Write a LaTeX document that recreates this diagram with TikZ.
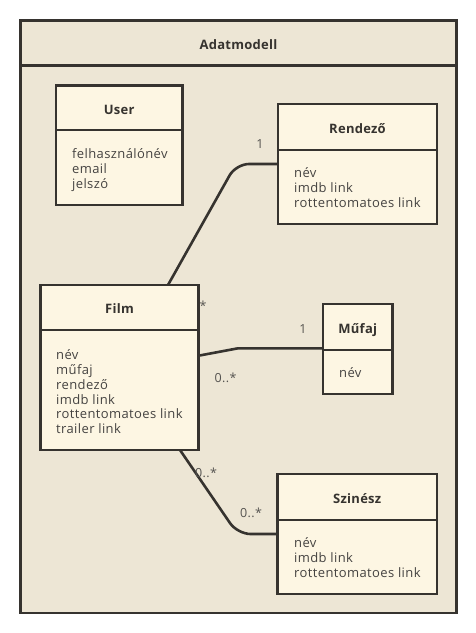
\documentclass[tikz,border=0pt]{standalone}
\usepackage{fontspec}
\setmainfont{Open Sans}
\newfontfamily\attrfont[LetterSpace=3]{Open Sans}
\newfontfamily\titlefont[LetterSpace=2]{Open Sans}
\usetikzlibrary{calc}
\definecolor{framebg}{HTML}{EDE6D5}
\definecolor{boxbg}{HTML}{FDF6E3}
\definecolor{ink}{HTML}{36332F}
\definecolor{attr}{HTML}{454341}
\definecolor{lbl}{HTML}{555350}
\begin{document}
\begin{tikzpicture}[x=1pt,y=-1pt,
  framebox/.style={draw=ink,fill=framebg,line width=2.2pt,anchor=north west,inner sep=0pt,outer sep=0pt},
  headbox/.style={draw=ink,fill=boxbg,line width=2.8pt,anchor=north west,inner sep=0pt,outer sep=0pt,text height=12.5pt,text depth=0pt,font=\titlefont\fontsize{13}{15}\selectfont\bfseries,text=ink},
  bodybox/.style={draw=ink,fill=boxbg,line width=2.8pt,anchor=north west,inner sep=0pt,outer sep=0pt},
  attrtext/.style={anchor=base west,inner sep=0pt,font=\attrfont\fontsize{13}{15}\selectfont,text=attr},
  mult/.style={inner sep=0pt,font=\attrfont\fontsize{12.5}{14}\selectfont,text=lbl},
  conn/.style={draw=ink,line width=2.6pt}]
\useasboundingbox (0,0) rectangle (476,633);
\fill[white] (0,0) rectangle (476,633);
% outer frame
\node[framebox,minimum width=436pt,minimum height=547.5pt] (fbody) at (20.5,65.5) {};
\node[framebox,minimum width=436pt,minimum height=45pt,text height=12.5pt,text depth=0pt,font=\titlefont\fontsize{13}{15}\selectfont\bfseries,text=ink] (fhead) at (20.5,20.5) {Adatmodell};
% User
\node[headbox,minimum width=126.5pt,minimum height=44.5pt] (userh) at (56,85.5) {User};
\node[bodybox,minimum width=126.5pt,minimum height=75pt] (userb) at (56,130) {};
% Rendezo
\node[headbox,minimum width=159pt,minimum height=46pt] (rendh) at (278,104) {Rendező};
\node[bodybox,minimum width=159pt,minimum height=74pt] (rendb) at (278,150) {};
% Film
\node[headbox,minimum width=158pt,minimum height=45pt] (filmh) at (40.5,285) {Film};
\node[bodybox,minimum width=158pt,minimum height=120pt] (filmb) at (40.5,330) {};
% Mufaj
\node[headbox,minimum width=69.5pt,minimum height=46pt] (mufh) at (323,304) {Műfaj};
\node[bodybox,minimum width=69.5pt,minimum height=44pt] (mufb) at (323,350) {};
% Szinesz
\node[headbox,minimum width=159.5pt,minimum height=46pt] (szh) at (277.5,474) {Szinész};
\node[bodybox,minimum width=159.5pt,minimum height=74pt] (szb) at (277.5,520) {};
% connectors
\coordinate (c1) at ([xshift=127.5pt]filmh.north west);
\coordinate (c2) at ([yshift=-14pt]rendb.north west);
\coordinate (c3) at ([yshift=-25.7pt]filmb.north east);
\coordinate (c4) at ([yshift=1.7pt]mufh.south west);
\coordinate (c5) at ([xshift=139.5pt]filmb.south west);
\coordinate (c6) at ([yshift=-14pt]szb.north west);
\draw[conn,rounded corners=13pt] (c1) -- (236,0 |- c2) -- (c2);
\draw[conn] (c3) -- (238,0 |- c4) -- (c4);
\draw[conn,rounded corners=13pt] (c5) -- (237.5,0 |- c6) -- (c6);
% attribute texts
\node[attrtext] (u1) at (72,158) {felhasználónév};
\node[attrtext] (u2) at (72,173) {email};
\node[attrtext] (u3) at (72,188) {jelszó};
\node[attrtext] (r1) at (294,177) {név};
\node[attrtext] (r2) at (294,192) {imdb link};
\node[attrtext] (r3) at (294,207) {rottentomatoes link};
\node[attrtext] (f1) at (56,359) {név};
\node[attrtext] (f2) at (56,374) {műfaj};
\node[attrtext] (f3) at (56,389) {rendező};
\node[attrtext] (f4) at (56,404) {imdb link};
\node[attrtext] (f5) at (56,418) {rottentomatoes link};
\node[attrtext] (f6) at (56,433) {trailer link};
\node[attrtext] (m1) at (339,377) {név};
\node[attrtext] (s1) at (294,547) {név};
\node[attrtext] (s2) at (294,562) {imdb link};
\node[attrtext] (s3) at (294,577) {rottentomatoes link};
% multiplicities
\node[mult] (l1) at (260,144) {1};
\node[mult] (l2) at (203,306) {*};
\node[mult] (l3) at (303,329) {1};
\node[mult] (l4) at (225.5,378) {0..*};
\node[mult] (l5) at (206,472.5) {0..*};
\node[mult] (l6) at (251,513) {0..*};
\end{tikzpicture}
\end{document}
